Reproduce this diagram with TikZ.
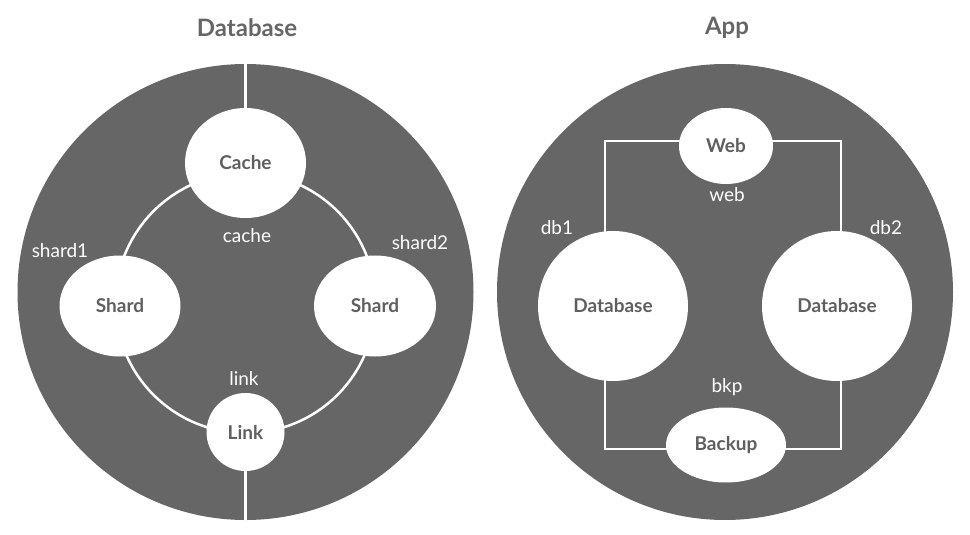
\documentclass[tikz,border=0pt]{standalone}
\usepackage{fontspec}
\setmainfont{Lato}
\usetikzlibrary{shapes.geometric}
\definecolor{zonegray}{HTML}{666666}
\definecolor{txtgray}{HTML}{5F5F5F}
\pgfdeclarelayer{back}
\pgfdeclarelayer{mid}
\pgfsetlayers{back,mid,main}
\begin{document}
\begin{tikzpicture}[x=1pt,y=-1pt,
  zone/.style={circle,fill=zonegray,minimum size=456pt,inner sep=0pt},
  item/.style={ellipse,fill=white,inner sep=0pt,font=\fontsize{19}{21}\selectfont\bfseries,text=txtgray},
  tag/.style={font=\fontsize{19}{21}\selectfont,text=white,inner sep=0pt},
  heading/.style={font=\fontsize{24}{28}\selectfont\bfseries,text=zonegray},
  wire/.style={draw=white,line width=2.5pt}]
\useasboundingbox (0,0) rectangle (970,535);
\begin{pgfonlayer}{back}
\node[zone] (dbzone) at (245.5,292) {};
\node[zone] (appzone) at (725,292) {};
\end{pgfonlayer}
\node[heading] (t1) at (247,28) {Database};
\node[heading] (t2) at (727,28) {App};
% Database zone
\node[item,minimum width=121pt,minimum height=110pt] (cache) at (245.5,163) {\raisebox{-3pt}{Cache}};
\node[item,minimum width=121pt,minimum height=101pt] (shardA) at (120,306) {\raisebox{-1pt}{Shard}};
\node[item,minimum width=122pt,minimum height=101pt] (shardB) at (375,306) {\raisebox{-1pt}{Shard}};
\node[item,minimum width=78pt,minimum height=78pt] (link) at (245.5,432) {\raisebox{-1pt}{Link}};
\coordinate (ringc) at (245.5,303);
\begin{pgfonlayer}{mid}
\draw[wire] (ringc) circle[radius=130pt];
\end{pgfonlayer}
\draw[wire] (dbzone.north) -- (cache);
\draw[wire] (link) -- (dbzone.south);
\node[tag] (lcache) at (247,236) {cache};
\node[tag] (lshard1) at (60,251) {shard1};
\node[tag] (lshard2) at (420,243) {shard2};
\node[tag] (llink) at (244,379) {link};
% App zone
\node[item,minimum width=94pt,minimum height=76pt] (web) at (726,146) {Web};
\node[item,minimum width=150pt,minimum height=150pt] (db1) at (613,306) {\raisebox{-1pt}{Database}};
\node[item,minimum width=150pt,minimum height=150pt] (db2) at (837,306) {\raisebox{-1pt}{Database}};
\node[item,minimum width=120pt,minimum height=75pt] (backup) at (726,445) {Backup};
\coordinate (tl) at (605,141);
\coordinate (tr) at (841,141);
\coordinate (bl) at (605,449);
\coordinate (br) at (841,449);
\begin{pgfonlayer}{mid}
\draw[wire] (tl) -- (tr) -- (br) -- (bl) -- cycle;
\end{pgfonlayer}
\node[tag] (lweb) at (727,195) {web};
\node[tag] (ldb1) at (557,228) {db1};
\node[tag] (ldb2) at (886,228) {db2};
\node[tag] (lbkp) at (727,387) {bkp};
\end{tikzpicture}
\end{document}
